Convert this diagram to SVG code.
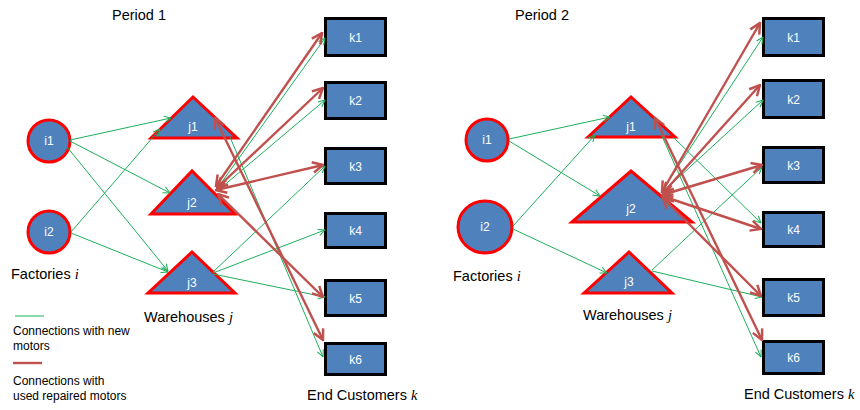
<svg xmlns="http://www.w3.org/2000/svg" width="860" height="410" viewBox="0 0 860 410">
  <style>
    .fac { fill: #4F81BD; stroke: #FF0000; stroke-width: 3; }
    .wh { fill: #4F81BD; stroke: #FF0000; stroke-width: 3; stroke-linejoin: miter; }
    .cust { fill: #4F81BD; stroke: #000000; stroke-width: 3; }
    .nl { font-family: "Liberation Sans", Arial, sans-serif; font-size: 12px; fill: #FFFFFF; text-anchor: middle; }
    .cap { font-family: "Liberation Sans", Arial, sans-serif; font-size: 14.5px; fill: #000000; }
    .var { font-family: "Liberation Serif", "Times New Roman", serif; font-style: italic; }
    .leg { font-family: "Liberation Sans", Arial, sans-serif; font-size: 12px; fill: #000000; }
    .new { stroke: #1DAF5B; stroke-width: 1; fill: none; marker-end: url(#gArrow); }
    .used { stroke: #C0504D; stroke-width: 2.4; fill: none; marker-start: url(#rArrow); marker-end: url(#rArrow); }
  </style>
  <defs>
    <marker id="gArrow" viewBox="0 0 10 10" refX="9.5" refY="5" markerWidth="8" markerHeight="8" markerUnits="userSpaceOnUse" orient="auto-start-reverse">
      <path d="M1,1 L9.5,5 L1,9" fill="none" stroke="#1DAF5B" stroke-width="1.3"/>
    </marker>
    <marker id="rArrow" viewBox="0 0 10 10" refX="9" refY="5" markerWidth="13" markerHeight="13" markerUnits="userSpaceOnUse" orient="auto-start-reverse">
      <path d="M1,1 L9,5 L1,9" fill="none" stroke="#C0504D" stroke-width="1.9"/>
    </marker>
  </defs>
  <rect width="860" height="410" fill="#FFFFFF"/>

  <!-- Period 1 nodes -->
  <g id="p1-i1"><circle class="fac" cx="49" cy="141" r="21"/><text class="nl" x="49" y="145">i1</text></g>
  <g id="p1-i2"><circle class="fac" cx="49" cy="232" r="21"/><text class="nl" x="49" y="236">i2</text></g>
  <g id="p1-j1"><polygon class="wh" points="151,138 193,97 237,138"/><text class="nl" x="193" y="131">j1</text></g>
  <g id="p1-j2"><polygon class="wh" points="151,214 192,171 235,214"/><text class="nl" x="192" y="207">j2</text></g>
  <g id="p1-j3"><polygon class="wh" points="148,293 192,252 235,293"/><text class="nl" x="192" y="287">j3</text></g>
  <g id="p1-k1"><rect class="cust" x="325.5" y="18.5" width="60" height="37"/><text class="nl" x="355.5" y="41.5">k1</text></g>
  <g id="p1-k2"><rect class="cust" x="325.5" y="82.5" width="60" height="36"/><text class="nl" x="355.5" y="105">k2</text></g>
  <g id="p1-k3"><rect class="cust" x="325.5" y="148.5" width="60" height="35"/><text class="nl" x="355.5" y="170.5">k3</text></g>
  <g id="p1-k4"><rect class="cust" x="325.5" y="213.5" width="60" height="34"/><text class="nl" x="355.5" y="235">k4</text></g>
  <g id="p1-k5"><rect class="cust" x="325.5" y="280.5" width="60" height="35"/><text class="nl" x="355.5" y="302.5">k5</text></g>
  <g id="p1-k6"><rect class="cust" x="325.5" y="343.5" width="60" height="31"/><text class="nl" x="355.5" y="363.5">k6</text></g>

  <!-- Period 2 nodes -->
  <g id="p2-i1"><circle class="fac" cx="487" cy="140" r="21"/><text class="nl" x="487" y="144">i1</text></g>
  <g id="p2-i2"><ellipse class="fac" cx="485" cy="227" rx="27" ry="26"/><text class="nl" x="485" y="231">i2</text></g>
  <g id="p2-j1"><polygon class="wh" points="588,137 631,97 675,137"/><text class="nl" x="631" y="131">j1</text></g>
  <g id="p2-j2"><polygon class="wh" points="572,222 631,171 692,222"/><text class="nl" x="631" y="213">j2</text></g>
  <g id="p2-j3"><polygon class="wh" points="584,293 629,252 672,293"/><text class="nl" x="629" y="286">j3</text></g>
  <g id="p2-k1"><rect class="cust" x="763.5" y="18.5" width="60" height="37"/><text class="nl" x="793.5" y="41.5">k1</text></g>
  <g id="p2-k2"><rect class="cust" x="763.5" y="80.5" width="60" height="37"/><text class="nl" x="793.5" y="103.5">k2</text></g>
  <g id="p2-k3"><rect class="cust" x="763.5" y="147.5" width="60" height="35"/><text class="nl" x="793.5" y="169.5">k3</text></g>
  <g id="p2-k4"><rect class="cust" x="763.5" y="212.5" width="60" height="34"/><text class="nl" x="793.5" y="234">k4</text></g>
  <g id="p2-k5"><rect class="cust" x="763.5" y="279.5" width="60" height="36"/><text class="nl" x="793.5" y="302">k5</text></g>
  <g id="p2-k6"><rect class="cust" x="763.5" y="341.5" width="60" height="32"/><text class="nl" x="793.5" y="362">k6</text></g>

  <!-- Connectors -->
  <g id="connectors">
    <!-- Period 1: new motors -->
    <line class="new" x1="70" y1="140" x2="171" y2="118"/>
    <line class="new" x1="70" y1="141" x2="170" y2="193"/>
    <line class="new" x1="67" y1="147" x2="168" y2="271"/>
    <line class="new" x1="71" y1="232" x2="160" y2="129"/>
    <line class="new" x1="71" y1="233" x2="168" y2="272"/>
    <line class="new" x1="219" y1="186" x2="325" y2="38"/>
    <line class="new" x1="222" y1="187" x2="325" y2="100"/>
    <line class="new" x1="213" y1="272" x2="325" y2="166"/>
    <line class="new" x1="213" y1="273" x2="325" y2="230"/>
    <line class="new" x1="213" y1="274" x2="325" y2="297"/>
    <line class="new" x1="230" y1="137" x2="323" y2="357"/>
    <!-- Period 1: used repaired motors -->
    <line class="used" x1="216" y1="186" x2="322" y2="33"/>
    <line class="used" x1="217" y1="188" x2="323" y2="88"/>
    <line class="used" x1="216" y1="190" x2="323" y2="165"/>
    <line class="used" x1="218" y1="194" x2="323" y2="297"/>
    <line class="used" x1="215" y1="118" x2="323" y2="340"/>

    <!-- Period 2: new motors -->
    <line class="new" x1="509" y1="139" x2="610" y2="117"/>
    <line class="new" x1="509" y1="141" x2="600" y2="196"/>
    <line class="new" x1="513" y1="226" x2="595" y2="135"/>
    <line class="new" x1="513" y1="229" x2="607" y2="273"/>
    <line class="new" x1="664" y1="188" x2="763" y2="37"/>
    <line class="new" x1="666" y1="189" x2="763" y2="100"/>
    <line class="new" x1="673" y1="137" x2="761" y2="223"/>
    <line class="new" x1="661" y1="134" x2="761" y2="357"/>
    <line class="new" x1="652" y1="270" x2="762" y2="167"/>
    <line class="new" x1="652" y1="271" x2="762" y2="297"/>
    <!-- Period 2: used repaired motors -->
    <line class="used" x1="662" y1="192" x2="760" y2="23"/>
    <line class="used" x1="663" y1="193" x2="760" y2="85"/>
    <line class="used" x1="662" y1="195" x2="762" y2="165"/>
    <line class="used" x1="662" y1="196" x2="761" y2="229"/>
    <line class="used" x1="663" y1="198" x2="761" y2="296"/>
    <line class="used" x1="655" y1="118" x2="762" y2="340"/>
  </g>

  <!-- Captions -->
  <g id="captions">
    <text class="cap" x="112" y="20">Period 1</text>
    <text class="cap" x="515" y="20">Period 2</text>
    <text class="cap" x="11" y="279">Factories <tspan class="var">i</tspan></text>
    <text class="cap" x="453" y="281">Factories <tspan class="var">i</tspan></text>
    <text class="cap" x="144" y="322">Warehouses <tspan class="var">j</tspan></text>
    <text class="cap" x="583" y="320">Warehouses <tspan class="var">j</tspan></text>
    <text class="cap" x="307" y="400">End Customers <tspan class="var">k</tspan></text>
    <text class="cap" x="744" y="399">End Customers <tspan class="var">k</tspan></text>
  </g>

  <!-- Legend -->
  <g id="legend">
    <line x1="15" y1="316" x2="44" y2="316" stroke="#1DAF5B" stroke-width="1"/>
    <text class="leg" x="13" y="335">Connections with new</text>
    <text class="leg" x="13" y="350">motors</text>
    <line x1="13" y1="363" x2="42" y2="363" stroke="#C0504D" stroke-width="2.4"/>
    <text class="leg" x="13" y="385">Connections with</text>
    <text class="leg" x="13" y="400">used repaired motors</text>
  </g>
</svg>
